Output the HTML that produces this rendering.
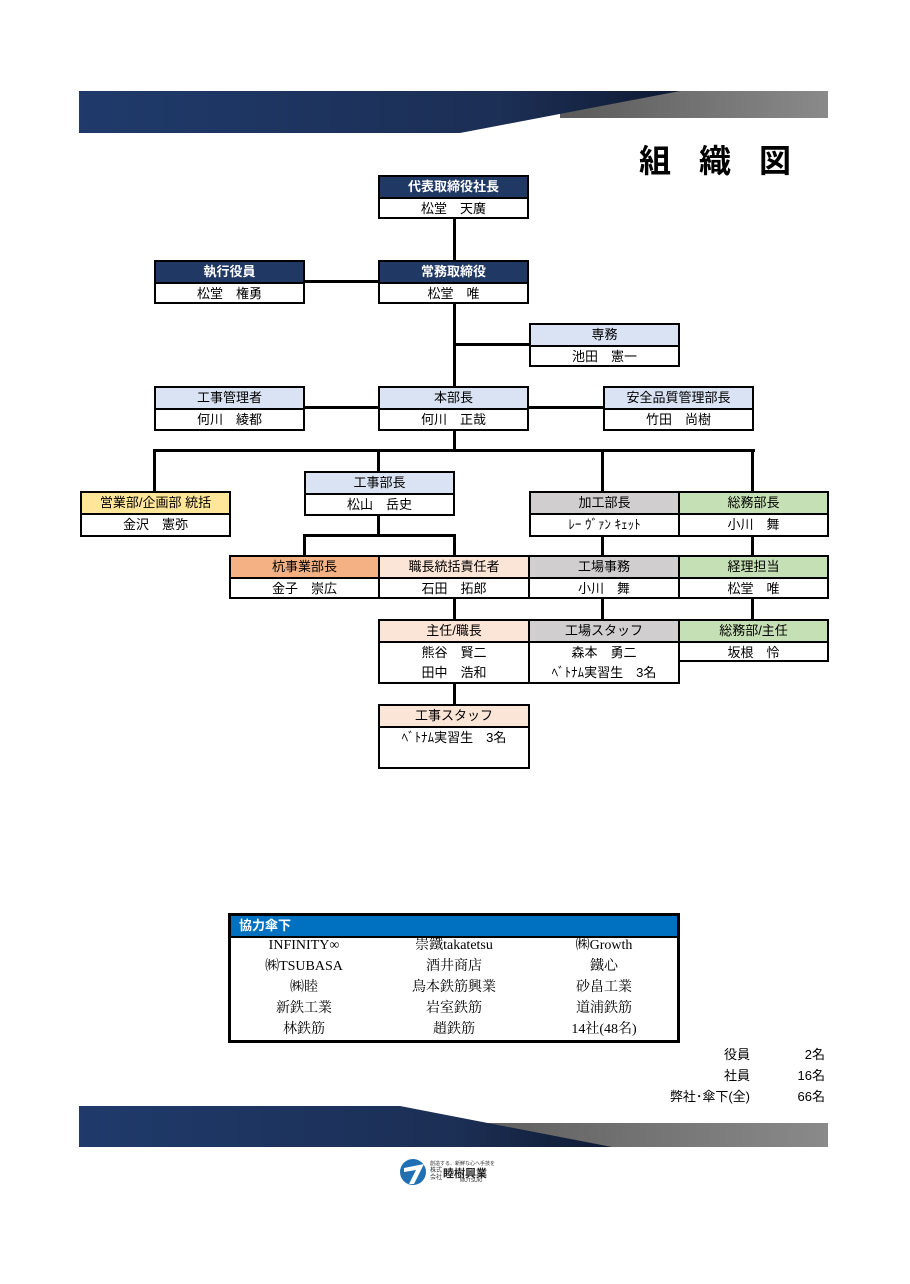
<!DOCTYPE html>
<html><head><meta charset="utf-8"><style>
body{margin:0;width:910px;height:1284px;background:#fff;position:relative;overflow:hidden;font-family:"Liberation Sans","Noto Sans CJK JP",sans-serif;}
.b{position:absolute;border:2px solid #000;box-sizing:border-box;background:#fff;font-size:13px;color:#000;}
.b .h{height:20px;line-height:20px;text-align:center;border-bottom:2px solid #000;}
.b .t{height:20px;line-height:20px;text-align:center;}
.n{background:#203864;color:#fff;font-weight:bold;}
.lb{background:#dae3f3;}
.y{background:#ffe699;}
.g{background:#d0cece;}
.gr{background:#c5e0b4;}
.o{background:#f4b183;}
.p{background:#fbe5d6;}
.l{position:absolute;background:#000;}
.tb{position:absolute;font-size:14px;text-align:center;width:150px;height:21px;line-height:22px;font-family:"Liberation Serif","Noto Serif CJK SC",serif;}
.s{position:absolute;font-size:13px;text-align:right;}
</style></head><body>
<svg style="position:absolute;left:0;top:0" width="910" height="1284">
<defs>
<linearGradient id="dg" x1="0" x2="1"><stop offset="0" stop-color="#1f3a6b"/><stop offset="0.7" stop-color="#1c2f55"/><stop offset="1" stop-color="#0f1a33"/></linearGradient>
<linearGradient id="gg" x1="0" x2="1"><stop offset="0" stop-color="#5a5a5a"/><stop offset="1" stop-color="#8a8a8a"/></linearGradient>
</defs>
<polygon points="560,91 828,91 828,118 560,118" fill="url(#gg)"/>
<polygon points="79,91 680,91 460,133 79,133" fill="url(#dg)"/>
<polygon points="440,1123 828,1123 828,1147 440,1147" fill="url(#gg)"/>
<polygon points="79,1106 400,1106 612,1147 79,1147" fill="url(#dg)"/>
<circle cx="413" cy="1172" r="13" fill="#1e6fb3"/>
<path d="M404 1168 L424 1164 L414 1184 L409 1184 L416 1170 L404 1172Z" fill="#fff"/>
</svg>
<div style="position:absolute;left:639px;top:136px;font-size:32px;letter-spacing:28px;font-weight:bold;font-family:'Liberation Sans','Noto Sans CJK JP',sans-serif;">組織図</div>
<div style="position:absolute;left:430px;top:1160px;font-size:5px;color:#333">創造する、新鮮な心へ手技を</div>
<div style="position:absolute;left:430px;top:1168px;font-size:6px;color:#333;line-height:7px">株式<br>会社</div>
<div style="position:absolute;left:443px;top:1165px;font-size:11px;font-weight:bold;color:#222">睦樹興業</div>
<div style="position:absolute;left:460px;top:1178px;font-size:5px;color:#333">MUTSUKI</div>

<!-- lines -->
<div class="l" style="left:453px;top:218px;width:3px;height:42px"></div>
<div class="l" style="left:304px;top:280px;width:74px;height:3px"></div>
<div class="l" style="left:453px;top:303px;width:3px;height:83px"></div>
<div class="l" style="left:454px;top:343px;width:75px;height:3px"></div>
<div class="l" style="left:304px;top:406px;width:74px;height:3px"></div>
<div class="l" style="left:529px;top:406px;width:74px;height:3px"></div>
<div class="l" style="left:453px;top:430px;width:3px;height:20px"></div>
<div class="l" style="left:153px;top:449px;width:602px;height:3px"></div>
<div class="l" style="left:153px;top:449px;width:3px;height:42px"></div>
<div class="l" style="left:377px;top:449px;width:3px;height:22px"></div>
<div class="l" style="left:601px;top:449px;width:3px;height:42px"></div>
<div class="l" style="left:751px;top:449px;width:3px;height:42px"></div>
<div class="l" style="left:377px;top:515px;width:3px;height:20px"></div>
<div class="l" style="left:303px;top:534px;width:153px;height:3px"></div>
<div class="l" style="left:303px;top:534px;width:3px;height:21px"></div>
<div class="l" style="left:453px;top:534px;width:3px;height:21px"></div>
<div class="l" style="left:601px;top:536px;width:3px;height:19px"></div>
<div class="l" style="left:751px;top:536px;width:3px;height:19px"></div>
<div class="l" style="left:453px;top:598px;width:3px;height:21px"></div>
<div class="l" style="left:601px;top:598px;width:3px;height:21px"></div>
<div class="l" style="left:751px;top:598px;width:3px;height:21px"></div>
<div class="l" style="left:453px;top:683px;width:3px;height:21px"></div>

<!-- boxes -->
<div class="b" style="left:378px;top:175px;width:151px;height:44px"><div class="h n">代表取締役社長</div><div class="t">松堂　天廣</div></div>
<div class="b" style="left:154px;top:260px;width:151px;height:44px"><div class="h n">執行役員</div><div class="t">松堂　権勇</div></div>
<div class="b" style="left:378px;top:260px;width:151px;height:44px"><div class="h n">常務取締役</div><div class="t">松堂　唯</div></div>
<div class="b" style="left:529px;top:323px;width:151px;height:44px"><div class="h lb">専務</div><div class="t">池田　憲一</div></div>
<div class="b" style="left:154px;top:386px;width:151px;height:45px"><div class="h lb">工事管理者</div><div class="t">何川　綾都</div></div>
<div class="b" style="left:378px;top:386px;width:151px;height:45px"><div class="h lb">本部長</div><div class="t">何川　正哉</div></div>
<div class="b" style="left:603px;top:386px;width:151px;height:45px"><div class="h lb">安全品質管理部長</div><div class="t">竹田　尚樹</div></div>
<div class="b" style="left:80px;top:491px;width:151px;height:46px"><div class="h y">営業部/企画部 統括</div><div class="t">金沢　憲弥</div></div>
<div class="b" style="left:304px;top:471px;width:151px;height:45px"><div class="h lb">工事部長</div><div class="t">松山　岳史</div></div>
<div class="b" style="left:529px;top:491px;width:151px;height:46px"><div class="h g">加工部長</div><div class="t">ﾚｰ ｳﾞｧﾝ ｷｪｯﾄ</div></div>
<div class="b" style="left:678px;top:491px;width:151px;height:46px"><div class="h gr">総務部長</div><div class="t">小川　舞</div></div>
<div class="b" style="left:229px;top:555px;width:151px;height:44px"><div class="h o">杭事業部長</div><div class="t">金子　崇広</div></div>
<div class="b" style="left:378px;top:555px;width:152px;height:44px"><div class="h p">職長統括責任者</div><div class="t">石田　拓郎</div></div>
<div class="b" style="left:528px;top:555px;width:152px;height:44px"><div class="h g">工場事務</div><div class="t">小川　舞</div></div>
<div class="b" style="left:678px;top:555px;width:151px;height:44px"><div class="h gr">経理担当</div><div class="t">松堂　唯</div></div>
<div class="b" style="left:378px;top:619px;width:152px;height:65px"><div class="h p">主任/職長</div><div class="t">熊谷　賢二</div><div class="t">田中　浩和</div></div>
<div class="b" style="left:528px;top:619px;width:152px;height:65px"><div class="h g">工場スタッフ</div><div class="t">森本　勇二</div><div class="t">ﾍﾞﾄﾅﾑ実習生　3名</div></div>
<div class="b" style="left:678px;top:619px;width:151px;height:43px"><div class="h gr">総務部/主任</div><div class="t">坂根　怜</div></div>
<div class="b" style="left:378px;top:704px;width:152px;height:65px"><div class="h p">工事スタッフ</div><div class="t">ﾍﾞﾄﾅﾑ実習生　3名</div></div>

<!-- table -->
<div style="position:absolute;left:228px;top:913px;width:452px;height:130px;border:3px solid #000;box-sizing:border-box;">
<div style="height:20px;background:#0070c0;color:#fff;font-weight:bold;font-size:13px;line-height:20px;padding-left:8px;border-bottom:2px solid #000;">協力傘下</div>
</div>
<div class="tb" style="left:229px;top:935px">INFINITY∞</div><div class="tb" style="left:379px;top:935px">崇鐵takatetsu</div><div class="tb" style="left:529px;top:935px">㈱Growth</div>
<div class="tb" style="left:229px;top:956px">㈱TSUBASA</div><div class="tb" style="left:379px;top:956px">酒井商店</div><div class="tb" style="left:529px;top:956px">鐵心</div>
<div class="tb" style="left:229px;top:977px">㈱睦</div><div class="tb" style="left:379px;top:977px">鳥本鉄筋興業</div><div class="tb" style="left:529px;top:977px">砂畠工業</div>
<div class="tb" style="left:229px;top:998px">新鉄工業</div><div class="tb" style="left:379px;top:998px">岩室鉄筋</div><div class="tb" style="left:529px;top:998px">道浦鉄筋</div>
<div class="tb" style="left:229px;top:1019px">林鉄筋</div><div class="tb" style="left:379px;top:1019px">趙鉄筋</div><div class="tb" style="left:529px;top:1019px">14社(48名)</div>

<div class="s" style="left:600px;width:150px;top:1044px">役員</div><div class="s" style="left:760px;width:65px;top:1044px">2名</div>
<div class="s" style="left:600px;width:150px;top:1065px">社員</div><div class="s" style="left:760px;width:65px;top:1065px">16名</div>
<div class="s" style="left:600px;width:150px;top:1086px">弊社･傘下(全)</div><div class="s" style="left:760px;width:65px;top:1086px">66名</div>
</body></html>
